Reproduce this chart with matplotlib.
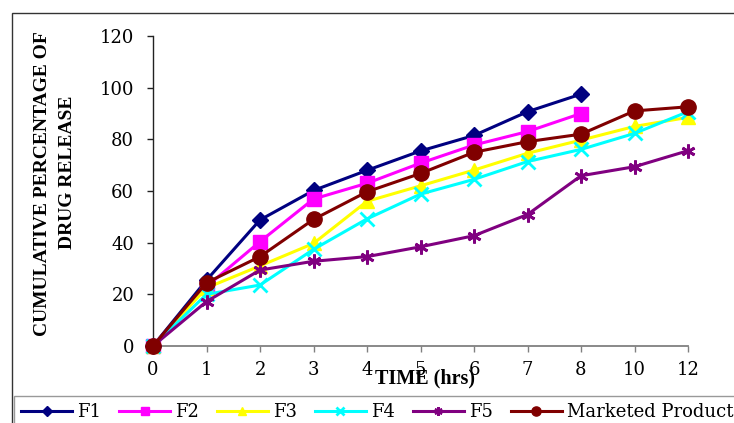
import matplotlib
matplotlib.use("Agg")
import matplotlib.pyplot as plt
from matplotlib.patches import Rectangle

time_labels = ["0", "1", "2", "3", "4", "5", "6", "7", "8", "10", "12"]
f1 = [0, 25.5, 48.8, 60.2, 68.0, 75.5, 81.5, 90.7, 97.5]
f2 = [0, 23.0, 40.4, 56.9, 63.0, 70.8, 77.8, 83.0, 90.0]
f3 = [0, 22.5, 31.0, 39.7, 56.0, 62.0, 68.1, 74.6, 79.7, 85.0, 88.5]
f4 = [0, 20.0, 23.6, 37.4, 49.2, 58.8, 64.5, 71.4, 76.1, 82.3, 90.7]
f5 = [0, 17.2, 29.4, 32.8, 34.6, 38.4, 42.7, 50.9, 65.9, 69.4, 75.6]
marketed = [0, 24.5, 34.6, 49.0, 59.7, 66.8, 75.0, 79.1, 82.0, 91.0, 92.6]

series = [
    ("F1", f1, "#000080", "D", 8.5),
    ("F2", f2, "#FF00FF", "s", 10),
    ("F3", f3, "#FFFF00", "^", 10),
    ("F4", f4, "#00FFFF", "x", 9.5),
    ("F5", f5, "#800080", (6, 2, 0), 10),
    ("Marketed Product", marketed, "#800000", "o", 11),
]

W, H = 734, 423
fig = plt.figure(figsize=(W / 100, H / 100), dpi=100)
tickfont = ["DejaVu Serif"]
labfont = ["Liberation Serif", "DejaVu Serif"]

ax = fig.add_axes([153 / W, 1 - 346 / H, (688 - 153) / W, (346 - 36) / H])
for name, vals, col, mk, ms in series:
    xs = list(range(len(vals)))
    kw = dict(color=col, lw=2.2, marker=mk, ms=ms, label=name, clip_on=False, zorder=3)
    if mk == "x" or isinstance(mk, tuple):
        kw["mew"] = 2.0
    else:
        kw["mfc"] = col
        kw["mec"] = col
    ax.plot(xs, vals, **kw)

ax.set_xlim(0, len(time_labels) - 1)
ax.set_ylim(0, 120)
ax.set_xticks(range(len(time_labels)))
ax.set_xticklabels(time_labels)
ax.set_yticks([0, 20, 40, 60, 80, 100, 120])
for s in ["top", "right"]:
    ax.spines[s].set_visible(False)
ax.spines["left"].set_color("#222222")
ax.spines["bottom"].set_color("#808080")
ax.spines["left"].set_linewidth(1.0)
ax.spines["bottom"].set_linewidth(1.3)
ax.tick_params(axis="y", direction="out", length=4.5, width=1.0, color="#222222", pad=9)
ax.tick_params(axis="x", direction="out", length=4.5, width=1.0, color="#808080", pad=6)
for lab in ax.get_xticklabels() + ax.get_yticklabels():
    lab.set_fontfamily(tickfont)
    lab.set_fontsize(13)

fig.text(43 / W, 1 - 184 / H, "CUMULATIVE PERCENTAGE OF",
         rotation=90, ha="center", va="center", fontsize=14, fontweight="bold",
         family=labfont)
fig.text(68 / W, 1 - 172 / H, "DRUG RELEASE",
         rotation=90, ha="center", va="center", fontsize=14, fontweight="bold",
         family=labfont)
fig.text(425 / W, 1 - 378 / H, "TIME (hrs)", ha="center", va="center",
         fontsize=14.5, fontweight="bold", family=labfont)

# outer chart border
fig.patches.append(Rectangle((12 / W, -0.1), 1.2, 1 - 13 / H + 0.1, transform=fig.transFigure,
                             fill=False, edgecolor="#333333", lw=1.0))

leg = fig.legend(loc="upper left", bbox_to_anchor=(14 / W, 1 - 396 / H), ncol=6,
                 frameon=True, fancybox=False, edgecolor="#808080",
                 prop={"family": tickfont, "size": 13}, handlelength=2.8,
                 columnspacing=1.0, handletextpad=0.3, borderpad=0.4,
                 borderaxespad=0, markerscale=0.6)
leg.get_frame().set_linewidth(1.0)

fig.savefig("out.png", dpi=100)
